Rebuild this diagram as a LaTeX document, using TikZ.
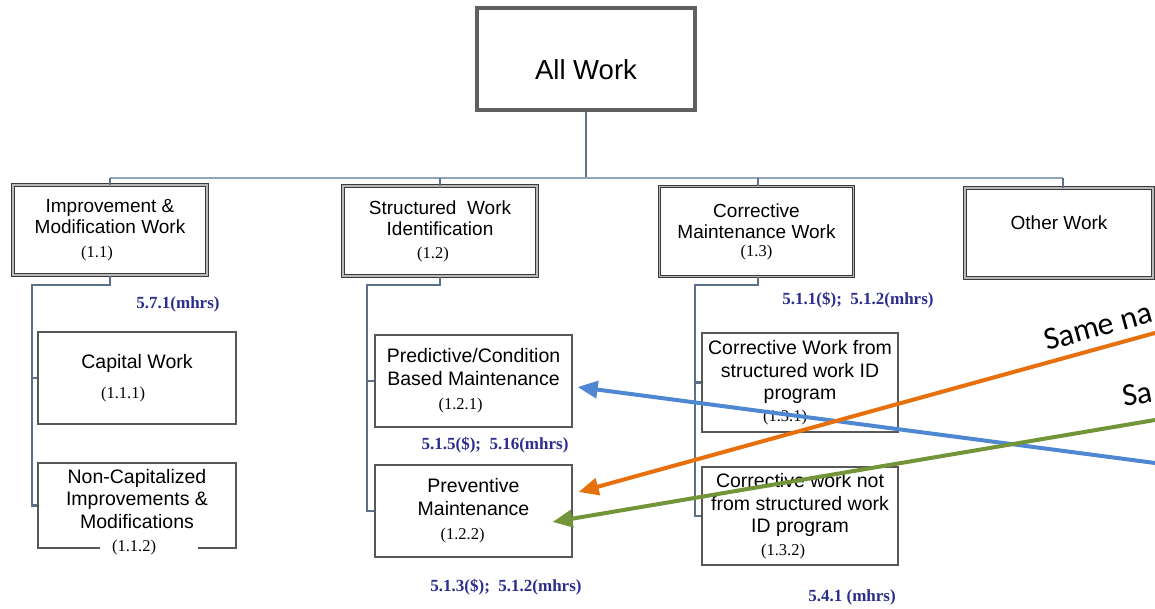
\documentclass[tikz,border=0pt]{standalone}
\usepackage{fontspec}
\setmainfont{Liberation Sans}
\newfontfamily\serifnum{Liberation Serif}
\newfontfamily\calib{Carlito}
\usetikzlibrary{arrows.meta,calc}
\definecolor{connc}{HTML}{5A7189}
\definecolor{busc}{HTML}{8FA5B8}
\definecolor{lblblue}{HTML}{2B2E8C}
\definecolor{ablue}{HTML}{4F88D2}
\definecolor{aorange}{HTML}{E8700C}
\definecolor{agreen}{HTML}{73953A}
\definecolor{boxline}{HTML}{3A3A3A}
\newcommand\mynum[1]{{\serifnum\fontsize{16.5}{18}\selectfont #1}}
\tikzset{
  topbox/.style={draw=gray!75!black, line width=3.5pt, minimum width=218pt, minimum height=102pt, inner sep=0pt},
  toptext/.style={font=\fontsize{27.5}{31}\selectfont, inner sep=0pt},
  lvlbox/.style={draw=boxline, double=gray!55, double distance=1.5pt, line width=1pt,
    minimum width=194pt, minimum height=90pt, align=center, inner sep=0pt,
    font=\fontsize{19}{21}\selectfont},
  lvltext/.style={font=\fontsize{19}{21}\selectfont, inner sep=0pt, align=center},
  childbox/.style={draw=boxline!85, line width=1.3pt, minimum width=197pt, minimum height=92pt,
    align=center, inner sep=0pt, font=\fontsize{19.5}{22.5}\selectfont},
  childtext/.style={font=\fontsize{19.5}{22.5}\selectfont, inner sep=0pt, align=center},
  metric/.style={text=lblblue, inner sep=0pt, font=\serifnum\bfseries\fontsize{17}{19}\selectfont},
  conn/.style={draw=connc, line width=2.2pt},
  bus/.style={draw=busc, line width=2.6pt},
  arr/.style={line width=4pt, -{Triangle[length=20pt,width=17pt]}},
  annot/.style={font=\calib\fontsize{32}{36}\selectfont, inner sep=0pt, text=black}
}
\begin{document}
\begin{tikzpicture}[x=1pt,y=-1pt]
\useasboundingbox (0,0) rectangle (1155,608);
\clip (0,0) rectangle (1155,608);
\fill[white] (0,0) rectangle (1155,608);

% top
\node[topbox] (all) at (586,59) {};
\node[toptext] (alltext) at (586,70) {All Work};

% level 1
\node[lvlbox] (imp) at (110,230) {Improvement \&\\Modification Work\\[3pt]\hspace*{-26pt}\mynum{(1.1)}};
\node[lvlbox] (str) at (440,231) {Structured\ \ Work\\Identification\\[2pt]\hspace*{-14pt}\mynum{(1.2)}};
\node[lvlbox] (cor) at (756.5,231.5) {Corrective\\Maintenance Work\\[-3pt]\mynum{(1.3)}};
\node[lvlbox, minimum width=188pt] (oth) at (1059,233) {};
\node[lvltext] (othtext) at (1059,223) {Other Work};

% bus and stems
\coordinate (busy) at (0,178);
\draw[conn] (all.south) -- (all.south |- busy);
\draw[bus] (imp.north |- busy) -- ([xshift=4pt]oth.north |- busy);
\draw[conn] (imp.north |- busy) -- (imp.north);
\draw[conn] (str.north |- busy) -- (str.north);
\draw[conn] ([xshift=1.5pt]cor.north |- busy) -- ([xshift=1.5pt]cor.north);
\draw[conn] ([xshift=4pt]oth.north |- busy) -- ([xshift=4pt]oth.north);

% children of 1.1
\node[childbox, minimum width=198pt] (cap) at (137,378) {Capital Work\\[8pt]\hspace*{-28pt}\mynum{(1.1.1)}};
\node[childbox, minimum width=198pt, minimum height=85pt] (ncap) at (137,505.5) {};
\node[childtext] (ncaptext) at (137,499) {Non-Capitalized\\Improvements \&\\Modifications};
\fill[white] (100,543) rectangle (198,553);
\node[inner sep=0pt] (ncapnum) at (134,548) {\mynum{(1.1.2)}};
\coordinate (impv) at (32,285);
\draw[conn] (imp.south) |- (impv) |- (ncap.west);
\draw[conn] (impv |- cap.west) -- (cap.west);

% children of 1.2
\node[childbox] (pred) at (473.5,381) {Predictive/Condition\\Based Maintenance\\[2pt]\hspace*{-26pt}\mynum{(1.2.1)}};
\node[childbox] (prev) at (473.5,511) {Preventive\\Maintenance\\[2pt]\hspace*{-22pt}\mynum{(1.2.2)}};
\coordinate (strv) at (367,285);
\draw[conn] (str.south) |- (strv) |- (prev.west);
\draw[conn] (strv |- pred.west) -- (pred.west);

% children of 1.3
\node[childbox, minimum width=196pt, minimum height=99pt] (c1) at (800,382.5) {Corrective Work from\\structured work ID\\program\\[-1pt]\hspace*{-30pt}\mynum{(1.3.1)}};
\node[childbox, minimum width=196pt, minimum height=98pt] (c2) at (800,516) {Corrective work not\\from structured work\\ID program\\\hspace*{-34pt}\mynum{(1.3.2)}};
\coordinate (corv) at (695,285);
\draw[conn] ([xshift=1.5pt]cor.south) |- (corv) |- (c2.west);
\draw[conn] (corv |- c1.west) -- (c1.west);

% metrics
\node[metric] (m1) at (178,304) {5.7.1(mhrs)};
\node[metric] (m2) at (858,300) {5.1.1(\$);\ \ 5.1.2(mhrs)};
\node[metric] (m3) at (495,445) {5.1.5(\$);\ \ 5.16(mhrs)};
\node[metric] (m4) at (506,587) {5.1.3(\$);\ \ 5.1.2(mhrs)};
\node[metric] (m5) at (852,597) {5.4.1 (mhrs)};

% coloured arrows
\coordinate (bluestart) at (1165,464.3);
\coordinate (orangestart) at (1165,330.2);
\coordinate (greenstart) at (1165,418.3);
\coordinate (bluetip) at ($(pred.east)+(5,6)$);
\coordinate (orangetip) at ($(prev.east)+(6,-19)$);
\coordinate (greentip) at ($(prev.center)+(79,11)$);
\draw[arr, ablue] (bluestart) -- (bluetip);
\draw[arr, aorange] (orangestart) -- (orangetip);
\draw[arr, agreen] (greenstart) -- (greentip);

\node[annot, rotate=15.4, anchor=base west] (same1) at (1047,351) {Same na};
\node[annot, rotate=9.6, anchor=base west] (same2) at (1124,407) {Sa};
\end{tikzpicture}
\end{document}
